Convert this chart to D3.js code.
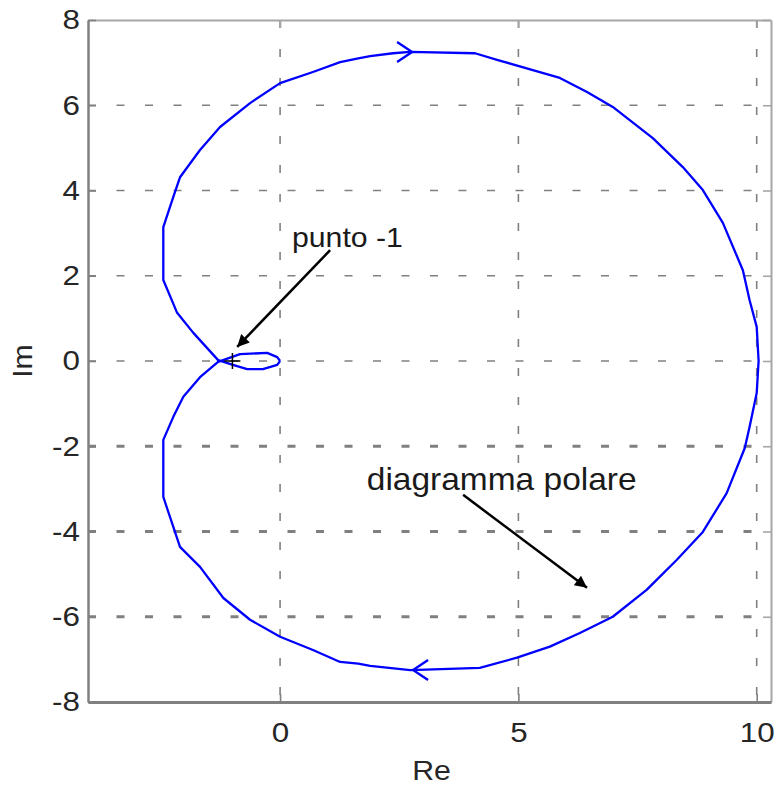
<!DOCTYPE html>
<html>
<head>
<meta charset="utf-8">
<script src="https://cdn.jsdelivr.net/npm/d3@7"></script>
<style>
  html, body { margin: 0; padding: 0; background: #fff; }
  svg { display: block; font-family: "Liberation Sans", Arial, sans-serif; }
  .tick text { fill: #262626; font-size: 28px; }
  .axis-label { fill: #262626; font-size: 28px; }
  .note { fill: #1a1a1a; }
</style>
</head>
<body>
<svg id="chart" width="776" height="787"></svg>
<script>
// Nyquist curve, [Re, Im]
// branch drawn from the origin, through the lower small lobe, over the top to Re = 10
const branchNeg = [
  [0, 0], [-0.06, -0.09], [-0.36, -0.19], [-0.69, -0.19], [-0.99, -0.09], [-1.30, 0.02],
  [-1.82, 0.66], [-2.16, 1.13], [-2.45, 1.90], [-2.45, 3.14], [-2.24, 3.85], [-2.10, 4.31],
  [-1.68, 4.95], [-1.26, 5.49], [-0.63, 6.05], [0, 6.52], [0.69, 6.78], [1.26, 7.01],
  [1.64, 7.10], [1.89, 7.15], [2.37, 7.22], [2.73, 7.25], [4.09, 7.22], [4.57, 7.06],
  [5.87, 6.64], [6.44, 6.31], [6.98, 5.96], [7.82, 5.23], [8.45, 4.55], [8.87, 4.01],
  [9.29, 3.24], [9.71, 2.13], [9.85, 1.43], [10.0, 0.80], [10.04, 0]
];
// branch from Re = 10, under the bottom, back through the upper small lobe to the origin
const branchPos = [
  [10.04, 0], [10.0, -0.75], [9.85, -1.55], [9.75, -2.04], [9.37, -3.10], [8.87, -4.01],
  [8.32, -4.67], [7.69, -5.37], [6.98, -6.00], [6.29, -6.38], [5.66, -6.70], [4.97, -6.96],
  [4.19, -7.20], [2.73, -7.25], [1.89, -7.15], [1.64, -7.10], [1.26, -7.06], [0.69, -6.78],
  [0, -6.47], [-0.63, -6.07], [-1.19, -5.56], [-1.68, -4.83], [-2.10, -4.36], [-2.45, -3.19],
  [-2.45, -1.85], [-2.24, -1.31], [-2.03, -0.84], [-1.68, -0.38], [-1.30, -0.02],
  [-0.84, 0.16], [-0.27, 0.19], [-0.06, 0.09], [0, 0]
];
// direction arrows on the curve: [Re, Im, direction]
const curveArrows = [[2.77, 7.25, 1], [2.79, -7.25, -1]];

const xTicks = [0, 5, 10];
const yTicks = [-8, -6, -4, -2, 0, 2, 4, 6, 8];
const xDomain = [-4.03, 10.3];
const yDomain = [-8, 8];

// annotations: text, text anchor [Re, Im], arrow from, arrow to
const noteTexts = ["punto -1", "diagramma polare"];
const noteSizes = [28, 31];
const noteTextAt = [[0.25, 2.67], [1.82, -3.02]];
const noteArrowFrom = [[1.05, 2.60], [3.84, -3.14]];
const noteArrowTo = [[-0.90, 0.33], [6.44, -5.32]];
const criticalPoint = [-1, 0];

const svg = d3.select("#chart");
const plot = { left: 88, right: 771, top: 20, bottom: 702 };
const stretch = 1.08; // text in the original is a little wider than Arial

const x = d3.scaleLinear().domain(xDomain).range([plot.left, plot.right]);
const y = d3.scaleLinear().domain(yDomain).range([plot.bottom, plot.top]);

const grey = "#808080";

// grid
const grid = svg.append("g").attr("data-layer", "grid");
grid.selectAll("line.hgrid")
  .data(yTicks.filter((t) => t > yDomain[0] && t < yDomain[1]))
  .join("line")
  .attr("class", "hgrid")
  .attr("x1", plot.left).attr("x2", plot.right)
  .attr("y1", (d) => y(d)).attr("y2", (d) => y(d))
  .attr("stroke", grey)
  .attr("stroke-width", (d) => (d < 0 ? 3 : 1.6))
  .attr("stroke-dasharray", "8 20.5");

grid.selectAll("line.vgrid")
  .data(xTicks)
  .join("line")
  .attr("class", "vgrid")
  .attr("x1", (d) => x(d)).attr("x2", (d) => x(d))
  .attr("y1", plot.top).attr("y2", plot.bottom)
  .attr("stroke", grey)
  .attr("stroke-width", 1.6)
  .attr("stroke-dasharray", "8 21");

// axes (ticks point inward, box all round)
function styleAxis(g, width, color) {
  g.select(".domain").attr("stroke", color).attr("stroke-width", width);
  g.selectAll(".tick line").attr("stroke", color).attr("stroke-width", 1.6);
}

// widen tick labels around their own anchor point
function stretchLabels(g) {
  g.selectAll(".tick text")
    .attr("font-size", null)
    .attr("font-family", null)
    .each(function () {
      const t = d3.select(this);
      const tx = +t.attr("x") || 0;
      const ty = +t.attr("y") || 0;
      t.attr("x", 0).attr("y", 0)
        .attr("transform", `translate(${tx},${ty}) scale(${stretch + 0.04},1)`);
    });
}

const plainFormat = (d) => String(d); // hyphen-minus as in the original

svg.append("g")
  .attr("transform", `translate(0,${plot.top})`)
  .call(d3.axisTop(x).tickValues(xTicks).tickSize(-8).tickSizeOuter(0).tickFormat(""))
  .call((g) => styleAxis(g, 2, "#a6a6a6"));

svg.append("g")
  .attr("transform", `translate(${plot.right},0)`)
  .call(d3.axisRight(y).tickValues(yTicks).tickSize(-8).tickSizeOuter(0).tickFormat(""))
  .call((g) => styleAxis(g, 2, "#a6a6a6"));

svg.append("g")
  .attr("transform", `translate(0,${plot.bottom})`)
  .call(d3.axisBottom(x).tickValues(xTicks).tickSize(-8).tickSizeOuter(0).tickPadding(20).tickFormat(plainFormat))
  .call((g) => styleAxis(g, 3, grey))
  .call(stretchLabels);

svg.append("g")
  .attr("transform", `translate(${plot.left},0)`)
  .call(d3.axisLeft(y).tickValues(yTicks).tickSize(-8).tickSizeOuter(0).tickPadding(8).tickFormat(plainFormat))
  .call((g) => styleAxis(g, 2.5, grey))
  .call(stretchLabels);

svg.append("text")
  .attr("class", "axis-label")
  .attr("transform", `translate(${(plot.left + plot.right) / 2 + 2},780) scale(${stretch},1)`)
  .attr("text-anchor", "middle")
  .text("Re");

svg.append("text")
  .attr("class", "axis-label")
  .attr("transform", `translate(32,${(plot.top + plot.bottom) / 2}) rotate(-90) scale(${stretch},1)`)
  .attr("text-anchor", "middle")
  .text("Im");

// curve
const line = d3.line().x((d) => x(d[0])).y((d) => y(d[1]));
const curve = svg.append("g").attr("data-layer", "curve");
curve.selectAll("path.branch")
  .data([branchNeg, branchPos])
  .join("path")
  .attr("class", "branch")
  .attr("d", line)
  .attr("fill", "none")
  .attr("stroke", "#0000ff")
  .attr("stroke-width", 2.3)
  .attr("stroke-linejoin", "round");

curve.selectAll("path.dir")
  .data(curveArrows)
  .join("path")
  .attr("class", "dir")
  .attr("d", (d) => {
    const tx = x(d[0]), ty = y(d[1]), s = d[2];
    return `M${tx - s * 15},${ty - 10} L${tx},${ty} L${tx - s * 15},${ty + 10}`;
  })
  .attr("fill", "none")
  .attr("stroke", "#0000ff")
  .attr("stroke-width", 2.3);

// critical point marker
svg.append("path")
  .attr("d", `M${x(criticalPoint[0]) - 8},${y(criticalPoint[1])} h16 M${x(criticalPoint[0])},${y(criticalPoint[1]) - 8} v16`)
  .attr("stroke", "#000")
  .attr("stroke-width", 1.5);

// annotations
svg.append("defs").append("marker")
  .attr("id", "head")
  .attr("viewBox", "0 0 10 10")
  .attr("refX", 10).attr("refY", 5)
  .attr("markerWidth", 18).attr("markerHeight", 12)
  .attr("markerUnits", "userSpaceOnUse")
  .attr("orient", "auto")
  .append("path")
  .attr("d", "M0,0 L10,5 L0,10 Z")
  .attr("fill", "#000");

const notes = svg.append("g").attr("data-layer", "notes");
notes.selectAll("line")
  .data(noteArrowFrom)
  .join("line")
  .attr("x1", (d) => x(d[0])).attr("y1", (d) => y(d[1]))
  .attr("x2", (d, i) => x(noteArrowTo[i][0])).attr("y2", (d, i) => y(noteArrowTo[i][1]))
  .attr("stroke", "#000")
  .attr("stroke-width", 2.5)
  .attr("marker-end", "url(#head)");

notes.selectAll("text")
  .data(noteTexts)
  .join("text")
  .attr("class", "note")
  .attr("font-size", (d, i) => noteSizes[i])
  .attr("transform", (d, i) => `translate(${x(noteTextAt[i][0])},${y(noteTextAt[i][1])}) scale(${stretch},1)`)
  .text((d) => d);
</script>
</body>
</html>
